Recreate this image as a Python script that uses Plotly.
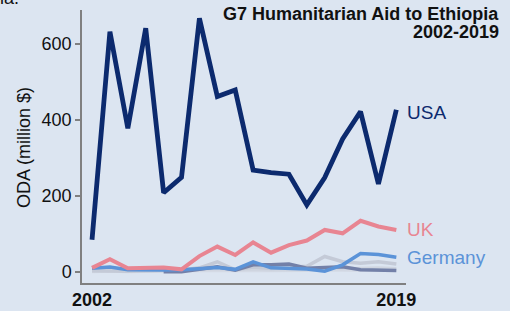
import plotly.graph_objects as go

years = list(range(2002, 2020))
usa = [84, 633, 378, 642, 208, 249, 668, 462, 479, 268, 261, 257, 176, 248, 350, 422, 231, 427]
uk = [10, 33, 9, 9, 11, 6, 41, 66, 44, 77, 50, 70, 82, 110, 101, 134, 119, 110]
germany = [9, 12, 5, 4, 4, 5, 9, 11, 6, 26, 10, 9, 7, 1, 18, 48, 45, 38]
canada = [None, None, None, None, 0, 0, 6, 13, 4, 18, 18, 20, 9, 11, 13, 5, 5, 3]
japan = [2, 1, 1, 2, 3, 4, 10, 26, 5, 12, 8, 12, 14, 40, 26, 22, 26, 20]
france = [1, 2, 2, 1, 2, 3, 5, 7, 4, 6, 4, 5, 5, 8, 7, 9, 10, 8]
italy = [0, 1, 0, 1, 1, 2, 2, 3, 2, 3, 2, 2, 3, 4, 3, 3, 4, 4]

tick_years = [2002, 2019]
tick_labels = ["<b>2002</b>", "<b>2019</b>"]
y_ticks = [0, 200, 400, 600]

BG = "#dce5f1"
NAVY = "#0c2a6e"
PINK = "#e88592"
BLUE = "#5b93d8"
FONT = "Liberation Sans"

W, H = 510, 311
ML, MR, MT, MB = 82, 104, 10, 28
pw = W - ML - MR
ph = H - MT - MB


def px_x(x):
    return (x - ML) / pw


def px_y(y):
    return (H - MB - y) / ph


fig = go.Figure()

series = [
    ("Italy", italy, "#d4dae5", 3),
    ("France", france, "#cfd5e0", 3),
    ("Japan", japan, "#c4cad7", 3.5),
    ("Canada", canada, "#7380a8", 3.5),
    ("Germany", germany, BLUE, 3.5),
    ("UK", uk, PINK, 4),
    ("USA", usa, NAVY, 4.8),
]
for name, vals, col, w in series:
    fig.add_trace(go.Scatter(x=years, y=vals, mode="lines", name=name,
                             line=dict(color=col, width=w), connectgaps=False,
                             hoverinfo="skip"))

for name, vals, col, ys in [("USA", usa, NAVY, -3), ("UK", uk, PINK, 0), ("Germany", germany, BLUE, 0)]:
    fig.add_annotation(x=years[-1], y=vals[-1], xref="x", yref="y", text=name,
                       showarrow=False, xanchor="left", yanchor="middle", xshift=9, yshift=ys,
                       font=dict(family=FONT, size=19, color=col))

fig.add_annotation(x=px_x(501), y=px_y(2), xref="paper", yref="paper",
                   text="<b>G7 Humanitarian Aid to Ethiopia</b>", showarrow=False,
                   xanchor="right", yanchor="top",
                   font=dict(family=FONT, size=18, color="#111111"))
fig.add_annotation(x=px_x(501), y=px_y(20), xref="paper", yref="paper",
                   text="<b>2002-2019</b>", showarrow=False,
                   xanchor="right", yanchor="top",
                   font=dict(family=FONT, size=18, color="#111111"))
fig.add_annotation(x=px_x(24), y=px_y(148), xref="paper", yref="paper",
                   text="ODA (million $)", showarrow=False, textangle=-90,
                   xanchor="center", yanchor="middle",
                   font=dict(family=FONT, size=18, color="#111111"))
fig.add_annotation(x=px_x(-2), y=px_y(-14), xref="paper", yref="paper",
                   text="ia.", showarrow=False, xanchor="left", yanchor="top",
                   font=dict(family=FONT, size=18, color="#111111"))

fig.update_layout(
    width=W, height=H,
    margin=dict(l=ML, r=MR, t=MT, b=MB, autoexpand=False),
    paper_bgcolor=BG, plot_bgcolor=BG,
    showlegend=False,
    font=dict(family=FONT, color="#111111"),
)

fig.update_xaxes(range=[2001.44, 2019.54], tickvals=tick_years, ticktext=tick_labels,
                 showgrid=False, zeroline=False, showline=True, linecolor="#808080",
                 linewidth=1.5, ticks="", automargin=False,
                 tickfont=dict(family=FONT, size=18, color="#111111"))
fig.update_yaxes(range=[-30, 690], tickvals=y_ticks, showgrid=False, zeroline=False,
                 showline=True, linecolor="#808080", linewidth=1.5, ticks="outside",
                 ticklen=5, tickcolor="#808080", tickwidth=1.5, automargin=False,
                 tickfont=dict(family=FONT, size=18, color="#111111"))

fig.write_html("out.html", config={"displayModeBar": False},
               post_script="document.body.style.margin='0';document.body.style.background='%s';" % BG)
